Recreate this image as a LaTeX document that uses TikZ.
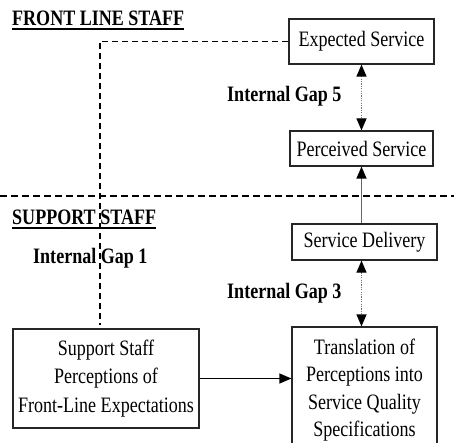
\documentclass[tikz,border=0pt]{standalone}
\usepackage{fontspec}
\setmainfont[FakeStretch=0.82]{Liberation Serif}
\usetikzlibrary{arrows.meta}
\begin{document}
\begin{tikzpicture}[x=1pt, y=-1pt, >={Triangle[length=12pt,width=10pt,color=black]},
  box/.style={draw=black!85, line width=1.2pt, inner sep=0pt, align=center, font=\fontsize{22}{28}\selectfont},
  lbl/.style={anchor=base west, inner sep=0pt, font=\fontsize{22}{26}\selectfont\bfseries},
  gap/.style={dash pattern=on 1.2pt off 1.2pt, draw=black!55, line width=1.2pt},
  staffline/.style={dash pattern=on 7pt off 4pt, line width=1.3pt}]
  \useasboundingbox (0,0) rectangle (454,443);
  \clip (0,0) rectangle (454,443);
  % boxes
  \node[box, minimum width=145pt, minimum height=45pt] (exp) at (361.5,41.5) {Expected Service};
  \node[box, minimum width=143pt, minimum height=35pt] (per) at (361.5,148.5) {Perceived Service};
  \node[box, minimum width=145pt, minimum height=36pt] (del) at (364.5,242) {Service Delivery};
  \node[box, minimum width=145pt, minimum height=126pt, font=\fontsize{22}{27.5}\selectfont] (tra) at (364.5,390) {Translation of\\Perceptions into\\Service Quality\\Specifications};
  \node[box, minimum width=186pt, minimum height=99pt, font=\fontsize{22}{28.3}\selectfont] (sup) at (106,378.5) {Support Staff\\Perceptions of\\Front-Line Expectations};
  % labels
  \node[lbl] (front) at (12,26) {FRONT LINE STAFF};
  \node[lbl] (support) at (12,225) {SUPPORT STAFF};
  \node[lbl] (gap5) at (227,102) {Internal Gap 5};
  \node[lbl] (gap1) at (33,263) {Internal Gap 1};
  \node[lbl] (gap3) at (227,298) {Internal Gap 3};
  \draw[line width=1.4pt] ([yshift=-3pt]front.base west) -- ([yshift=-3pt]front.base east);
  \draw[line width=1.4pt] ([yshift=-3pt]support.base west) -- ([yshift=-3pt]support.base east);
  % staff divide
  \coordinate (divl) at (0,196);
  \coordinate (divr) at (454,196);
  \draw[staffline] (divl) -- (divr);
  \coordinate (g1) at (100,325);
  \draw[dash pattern=on 6pt off 4pt, line width=1.2pt] (exp.west) -| (g1);
  % arrows
  \draw[gap, <->] (exp.south) -- (per.north);
  \draw[gap, <->] (del.south -| exp.south) -- (tra.north -| exp.south);
  \draw[->, draw=black!60, line width=1.3pt] (del.north -| per.south) -- (per.south);
  \draw[->, line width=1.3pt] (sup.east) -- (tra.west |- sup.east);
\end{tikzpicture}
\end{document}
